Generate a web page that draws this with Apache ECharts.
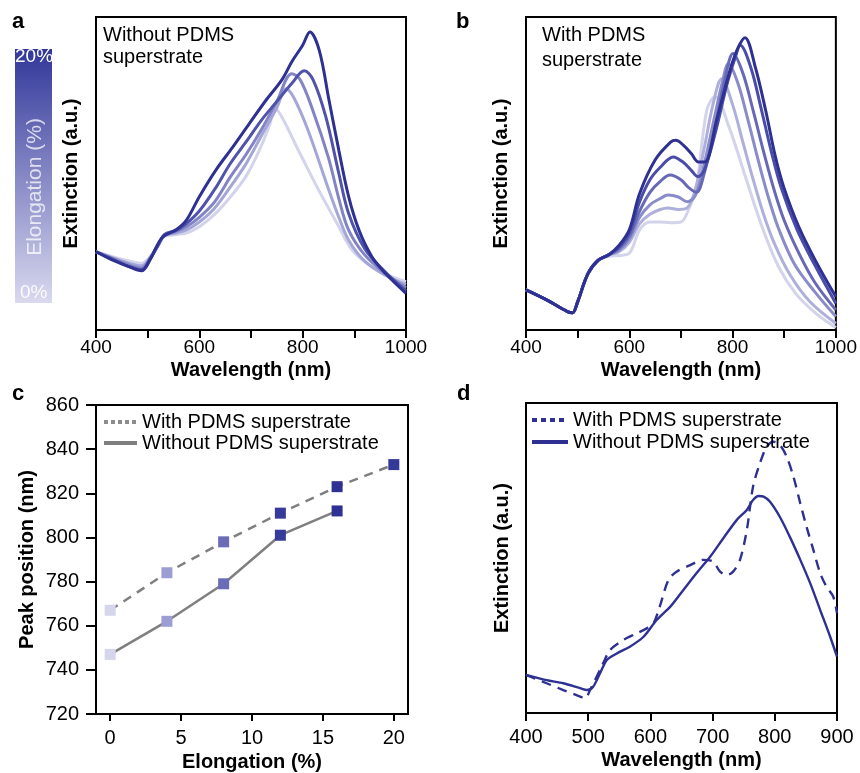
<!DOCTYPE html>
<html><head><meta charset="utf-8">
<script src="https://cdn.jsdelivr.net/npm/echarts@6/dist/echarts.min.js"></script>
<style>html,body{margin:0;padding:0;background:#fff}#chart{width:860px;height:773px}</style>
</head><body><div id="chart"></div>
<script>
// ---------------- DATA ----------------
// Panel a: extinction spectra without PDMS superstrate (0,4,8,12,16 % elongation), [wavelength nm, extinction a.u.]
const specA0 = [[400,.25],[430,.235],[460,.222],[488,.213],[505,.235],[520,.27],[532,.298],[555,.305],[575,.31],[600,.33],[630,.37],[660,.425],[690,.49],[715,.57],[735,.65],[747,.707],[760,.68],[790,.58],[830,.45],[870,.33],[896,.255],[934,.202],[970,.172],[1000,.154]];
const specA1 = [[400,.25],[430,.232],[460,.215],[488,.205],[505,.232],[520,.27],[532,.3],[555,.31],[575,.32],[600,.345],[630,.39],[660,.457],[690,.53],[720,.62],[750,.71],[768,.771],[782,.745],[810,.64],[850,.45],[870,.36],[889,.287],[920,.22],[960,.175],[1000,.145]];
const specA2 = [[400,.25],[430,.23],[460,.21],[488,.198],[505,.23],[520,.27],[532,.302],[555,.315],[575,.33],[600,.36],[630,.41],[660,.489],[690,.56],[720,.64],[750,.73],[779,.819],[795,.8],[820,.7],[850,.55],[870,.42],[889,.319],[920,.24],[960,.18],[1000,.135]];
const specA3 = [[400,.25],[430,.228],[460,.205],[488,.193],[505,.228],[520,.27],[532,.305],[555,.318],[575,.34],[600,.38],[630,.45],[660,.532],[690,.6],[720,.67],[750,.73],[780,.79],[803,.828],[820,.8],[845,.68],[870,.5],[889,.372],[920,.26],[960,.185],[1000,.125]];
const specA4 = [[400,.25],[430,.225],[460,.205],[488,.189],[505,.225],[517,.266],[530,.298],[555,.32],[575,.351],[600,.426],[632,.511],[665,.585],[697,.66],[729,.734],[760,.8],[779,.857],[800,.91],[814,.952],[832,.894],[851,.734],[870,.574],[889,.426],[909,.319],[934,.234],[960,.181],[1000,.117]];

// Panel b: extinction spectra with PDMS superstrate (0,4,8,12,16,20 % elongation)
const specB0 = [[400,.128],[440,.096],[480,.059],[490,.055],[500,.09],[520,.18],[540,.223],[560,.235],[580,.238],[600,.245],[620,.32],[640,.345],[660,.345],[680,.343],[700,.345],[717,.394],[730,.457],[750,.702],[766,.745],[793,.649],[825,.489],[857,.33],[889,.202],[922,.117],[960,.055],[1000,.008]];
const specB1 = [[400,.128],[440,.096],[480,.059],[490,.055],[500,.09],[520,.18],[540,.223],[560,.24],[580,.25],[600,.28],[620,.34],[640,.37],[660,.385],[675,.39],[695,.385],[712,.39],[728,.45],[745,.58],[762,.72],[779,.803],[800,.72],[820,.6],[840,.48],[860,.37],[880,.28],[910,.18],[950,.09],[1000,.021]];
const specB2 = [[400,.128],[440,.096],[480,.059],[490,.055],[500,.09],[520,.18],[540,.223],[560,.24],[580,.255],[600,.29],[620,.36],[640,.4],[660,.42],[675,.431],[695,.425],[712,.41],[728,.43],[745,.53],[765,.68],[780,.79],[792,.851],[810,.79],[830,.67],[850,.54],[870,.42],[890,.32],[920,.21],[960,.12],[1000,.043]];
const specB3 = [[400,.128],[440,.096],[480,.059],[490,.055],[500,.09],[520,.18],[540,.223],[560,.24],[580,.26],[600,.3],[620,.38],[640,.44],[660,.475],[679,.495],[700,.48],[715,.455],[730,.44],[745,.5],[765,.64],[785,.8],[801,.883],[820,.82],[840,.7],[860,.57],[880,.45],[900,.35],[930,.24],[960,.15],[1000,.064]];
const specB4 = [[400,.128],[440,.096],[480,.059],[490,.055],[500,.09],[520,.18],[540,.223],[560,.24],[580,.265],[600,.31],[620,.41],[640,.48],[660,.52],[685,.553],[705,.535],[720,.51],[733,.49],[745,.51],[765,.62],[790,.79],[805,.87],[815,.91],[835,.84],[855,.71],[875,.57],[895,.45],[925,.32],[960,.205],[1000,.085]];
const specB5 = [[400,.128],[440,.096],[480,.059],[490,.055],[500,.09],[520,.18],[540,.223],[560,.24],[580,.27],[600,.32],[620,.436],[650,.543],[680,.6],[690,.606],[705,.59],[720,.564],[734,.537],[746,.537],[769,.67],[795,.83],[810,.9],[824,.934],[844,.84],[864,.702],[883,.553],[899,.457],[928,.33],[960,.223],[1000,.106]];

// Panel c: peak position vs elongation
const elongWith = [0,4,8,12,16,20];
const peakWith = [767,784,798,811,823,833];
const elongWithout = [0,4,8,12,16];
const peakWithout = [747,762,779,801,812];

// Panel d: spectra at 0% elongation, with / without PDMS superstrate
const specDWith = [[400,.123],[433,.096],[460,.074],[487,.053],[495,.047],[503,.074],[524,.16],[535,.203],[556,.235],[578,.257],[594,.273],[605,.289],[615,.343],[629,.429],[642,.456],[664,.477],[685,.494],[701,.488],[712,.456],[723,.445],[733,.456],[744,.494],[755,.59],[765,.73],[776,.805],[787,.859],[798,.875],[808,.865],[819,.827],[830,.762],[841,.676],[851,.601],[862,.526],[873,.451],[883,.408],[894,.375],[900,.322]];
const specDWithout = [[400,.123],[433,.106],[460,.096],[487,.08],[498,.074],[508,.085],[519,.128],[530,.171],[546,.192],[567,.214],[589,.246],[610,.3],[632,.343],[653,.397],[674,.451],[696,.504],[717,.563],[739,.623],[755,.655],[765,.687],[774,.7],[782,.698],[792,.682],[808,.633],[824,.569],[841,.494],[857,.418],[873,.332],[889,.246],[900,.182]];

// Tick labels
const waveLabelsAB = [400,600,800,1000];
const elongTicks = [0,5,10,15,20];
const legendNames = ['With PDMS superstrate','Without PDMS superstrate'];

// ---------------- STYLE ----------------
const FONT = '"Liberation Sans", Arial, Helvetica, sans-serif';
const paletteA = ['#d3d3eb','#a4a6d7','#8284c6','#5053ab','#2e3192'];
const paletteB = ['#d3d3eb','#aeb0db','#8a8cca','#6769b7','#4a4da8','#2e3192'];
const markerRamp = ['#d5d5ec','#9c9ed3','#6a6cb7','#363a9b','#2e3192','#343899'];
const navy = '#2e3192';
const gray = '#7f7f7f';

const chart = echarts.init(document.getElementById('chart'), null, {renderer:'canvas'});

const gridBox = {show:true, borderColor:'#000', borderWidth:2, backgroundColor:'transparent'};
const grids = [
  Object.assign({left:96, top:17, width:310, height:313}, gridBox),
  Object.assign({left:526, top:17, width:311, height:313}, gridBox),
  Object.assign({left:96, top:405, width:312, height:310}, gridBox),
  Object.assign({left:526, top:403, width:311, height:310}, gridBox)
];

function wlAxis(gi, min, max, labelFilter, fontSize, margin, nameGap){
  return {
    gridIndex:gi, type:'value', min:min, max:max, interval:100,
    axisLine:{show:true, onZero:false, lineStyle:{color:'#000', width:2}},
    axisTick:{show:true, length:8, lineStyle:{color:'#000', width:2}},
    axisLabel:{show:true, color:'#000', fontSize:fontSize, fontFamily:FONT, margin:margin,
      showMinLabel:true, showMaxLabel:true, hideOverlap:false,
      formatter: v => (labelFilter ? (labelFilter.indexOf(v) >= 0 ? String(v) : '') : String(v))},
    splitLine:{show:false},
    name:'Wavelength (nm)', nameLocation:'middle', nameGap:nameGap,
    nameTextStyle:{color:'#000', fontSize:20, fontWeight:'bold', fontFamily:FONT}
  };
}
function extAxis(gi, nameGap){
  return {
    gridIndex:gi, type:'value', min:0, max:1,
    axisLine:{show:false, onZero:false}, axisTick:{show:false}, axisLabel:{show:false}, splitLine:{show:false},
    name:'Extinction (a.u.)', nameLocation:'middle', nameGap:nameGap,
    nameTextStyle:{color:'#000', fontSize:20, fontWeight:'bold', fontFamily:FONT}
  };
}

const xAxes = [
  wlAxis(0, 400, 1000, waveLabelsAB, 19, 8, 30),
  wlAxis(1, 400, 1000, waveLabelsAB, 19, 8, 30),
  {
    gridIndex:2, type:'value', min:-1, max:21,
    axisLine:{show:true, onZero:false, lineStyle:{color:'#000', width:2}},
    axisTick:{show:true, length:7, lineStyle:{color:'#000', width:2}, customValues:elongTicks},
    axisLabel:{show:true, color:'#000', fontSize:20, fontFamily:FONT, margin:14, customValues:elongTicks},
    splitLine:{show:false},
    name:'Elongation (%)', nameLocation:'middle', nameGap:38,
    nameTextStyle:{color:'#000', fontSize:20, fontWeight:'bold', fontFamily:FONT}
  },
  wlAxis(3, 400, 900, null, 20, 14, 37)
];
const yAxes = [
  extAxis(0, 15),
  extAxis(1, 15),
  {
    gridIndex:2, type:'value', min:720, max:860, interval:20,
    axisLine:{show:true, onZero:false, lineStyle:{color:'#000', width:2}},
    axisTick:{show:true, length:10, lineStyle:{color:'#000', width:2}},
    axisLabel:{show:true, color:'#000', fontSize:20, fontFamily:FONT, margin:17},
    splitLine:{show:false},
    name:'Peak position (nm)', nameLocation:'middle', nameGap:59,
    nameTextStyle:{color:'#000', fontSize:20, fontWeight:'bold', fontFamily:FONT}
  },
  extAxis(3, 14)
];

function spec(data, color, gi, name){
  return {type:'line', name:name, xAxisIndex:gi, yAxisIndex:gi, data:data, smooth:0.35,
    symbol:'none', lineStyle:{color:color, width:3}, silent:true, z:2};
}

const series = [];
[specA0,specA1,specA2,specA3,specA4].forEach((d,i)=>series.push(spec(d, paletteA[i], 0, 'a'+i)));
[specB0,specB1,specB2,specB3,specB4,specB5].forEach((d,i)=>series.push(spec(d, paletteB[i], 1, 'b'+i)));

// panel c lines
series.push({type:'line', name:legendNames[0], xAxisIndex:2, yAxisIndex:2,
  data: elongWith.map((x,i)=>[x, peakWith[i]]), symbol:'none',
  lineStyle:{color:gray, width:2.5, type:[9,7]}, z:2});
series.push({type:'line', name:legendNames[1], xAxisIndex:2, yAxisIndex:2,
  data: elongWithout.map((x,i)=>[x, peakWithout[i]]), symbol:'none',
  lineStyle:{color:gray, width:2.5}, z:2});
const scatterStart = series.length;
series.push({type:'scatter', name:'markersWith', xAxisIndex:2, yAxisIndex:2,
  data: elongWith.map((x,i)=>[x, peakWith[i]]), symbol:'rect', symbolSize:11, itemStyle:{opacity:1}, z:5});
series.push({type:'scatter', name:'markersWithout', xAxisIndex:2, yAxisIndex:2,
  data: elongWithout.map((x,i)=>[x, peakWithout[i]]), symbol:'rect', symbolSize:11, itemStyle:{opacity:1}, z:5});

// panel d
series.push({type:'line', name:legendNames[0], xAxisIndex:3, yAxisIndex:3, data:specDWith, smooth:0.3,
  symbol:'none', lineStyle:{color:navy, width:2.4, type:[10,7]}, z:2});
series.push({type:'line', name:legendNames[1], xAxisIndex:3, yAxisIndex:3, data:specDWithout, smooth:0.3,
  symbol:'none', lineStyle:{color:navy, width:2.4}, z:2});

const legendText = {color:'#000', fontSize:20, fontFamily:FONT};
const hiddenSym = {opacity:0, color:'rgba(0,0,0,0)', borderWidth:0};
const option = {
  animation:false,
  backgroundColor:'#fff',
  grid:grids, xAxis:xAxes, yAxis:yAxes, series:series,
  visualMap:[{type:'continuous', show:false, seriesIndex:[scatterStart, scatterStart+1], dimension:0,
    min:0, max:20, inRange:{color:markerRamp}}],
  legend:[
    {left:102, top:412, padding:0, orient:'vertical', itemWidth:33, itemHeight:14, itemGap:1, selectedMode:false,
      textStyle:legendText,
      data:[{name:legendNames[0], itemStyle:hiddenSym, lineStyle:{color:'#8c8c8c', width:4, type:[4,3]}},
            {name:legendNames[1], itemStyle:hiddenSym, lineStyle:{color:gray, width:4, type:'solid'}}]},
    {left:530, top:410, padding:0, orient:'vertical', itemWidth:36, itemHeight:14, itemGap:2, selectedMode:false,
      textStyle:legendText,
      data:[{name:legendNames[0], itemStyle:hiddenSym, lineStyle:{color:navy, width:4, type:[5,4]}},
            {name:legendNames[1], itemStyle:hiddenSym, lineStyle:{color:navy, width:4, type:'solid'}}]}
  ],
  graphic:[
    {type:'rect', shape:{x:15, y:49, width:37, height:254}, silent:true,
      style:{fill:{type:'linear', x:0, y:0, x2:0, y2:1,
        colorStops:[{offset:0, color:'#32379a'},{offset:1, color:'#d9d9ef'}]}}},
    {type:'text', silent:true, style:{text:'20%', x:15, y:57, fill:'#fff', fontSize:19, fontFamily:FONT, verticalAlign:'middle'}},
    {type:'text', silent:true, style:{text:'0%', x:20, y:293, fill:'rgba(255,255,255,0.9)', fontSize:19, fontFamily:FONT, verticalAlign:'middle'}},
    {type:'text', silent:true, x:35, y:187, rotation:Math.PI/2,
      style:{text:'Elongation (%)', x:0, y:0, fill:'rgba(255,255,255,0.75)', fontSize:21, fontFamily:FONT, align:'center', verticalAlign:'middle'}},
    {type:'text', silent:true, style:{text:'a', x:12, y:22, fill:'#000', fontSize:22, fontWeight:'bold', fontFamily:FONT, verticalAlign:'middle'}},
    {type:'text', silent:true, style:{text:'b', x:456, y:22, fill:'#000', fontSize:22, fontWeight:'bold', fontFamily:FONT, verticalAlign:'middle'}},
    {type:'text', silent:true, style:{text:'c', x:12, y:394, fill:'#000', fontSize:22, fontWeight:'bold', fontFamily:FONT, verticalAlign:'middle'}},
    {type:'text', silent:true, style:{text:'d', x:457, y:394, fill:'#000', fontSize:22, fontWeight:'bold', fontFamily:FONT, verticalAlign:'middle'}},
    {type:'text', silent:true, style:{text:'Without PDMS\nsuperstrate', x:103, y:24, fill:'#000', fontSize:20, lineHeight:22, fontFamily:FONT, verticalAlign:'top'}},
    {type:'text', silent:true, style:{text:'With PDMS\nsuperstrate', x:542, y:23, fill:'#000', fontSize:20, lineHeight:25, fontFamily:FONT, verticalAlign:'top'}}
  ]
};
chart.setOption(option);
</script></body></html>
